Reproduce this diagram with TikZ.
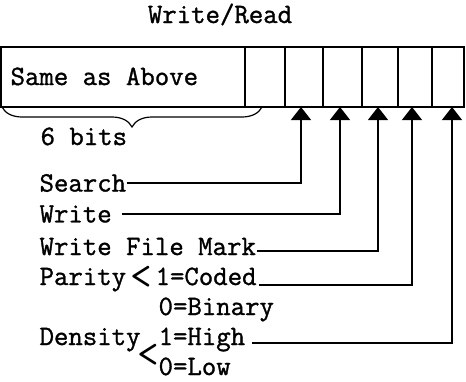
\documentclass[tikz,border=0pt]{standalone}
\usepackage{fontspec}
\newfontfamily\typewr[FakeBold=1.2]{Latin Modern Mono}
\usetikzlibrary{arrows.meta,decorations.pathreplacing}
\tikzset{
  lbl/.style={inner sep=0pt, anchor=base west},
  chev/.style={inner sep=0pt, font=\ttfamily\fontsize{42}{44}\selectfont},
  pointer/.style={-{Triangle[width=20pt,length=13pt]}},
}
\begin{document}
\begin{tikzpicture}[x=1pt,y=-1pt,line width=1.2pt,
  font=\typewr\fontsize{28}{32}\selectfont]
\useasboundingbox (0,0) rectangle (466,381);

\node[inner sep=0pt, anchor=base] (title) at (220,23) {Write/Read};

% register
\draw (1,47) rectangle (464,107);
\foreach \x in {245,285,323,362,398,432}
  \draw (\x,47) -- (\x,107);
\node[lbl] (same) at (10,85) {Same as Above};
\draw[decorate,decoration={brace,mirror,amplitude=20pt}] (2,107) -- (262,107);
\node[lbl] (six) at (40,145) {6 bits};

% bit inputs
\coordinate (a1) at (301,107);
\coordinate (a2) at (340,107);
\coordinate (a3) at (378,107);
\coordinate (a4) at (412,107);
\coordinate (a5) at (452,107);

\node[inner sep=0pt, anchor=west] (search) at (39,183) {Search};
\node[inner sep=0pt, anchor=west] (write) at (39,214) {Write};
\node[lbl] (wfm) at (39,255) {Write File Mark};
\node[lbl] (parity) at (39,285) {Parity};
\node[chev] (plt) at (141,278) {<};
\node[lbl] (coded) at (155,285) {1=Coded};
\node[lbl] (binary) at (158,315) {0=Binary};
\node[lbl] (density) at (39,345) {Density};
\node[chev] (dlt) at (148,356) {<};
\node[lbl] (high) at (158,345) {1=High};
\node[lbl] (low) at (158,375) {0=Low};

\draw[pointer] (search.east) -| (a1);
\draw[pointer] ([xshift=10pt]write.east) -| (a2);
\draw[pointer] ([yshift=4pt]wfm.base east) -| (a3);
\draw[pointer] ([xshift=2pt]coded.base east) -| (a4);
\draw[pointer] ([xshift=6pt,yshift=2pt]high.base east) -| (a5);
\end{tikzpicture}
\end{document}
